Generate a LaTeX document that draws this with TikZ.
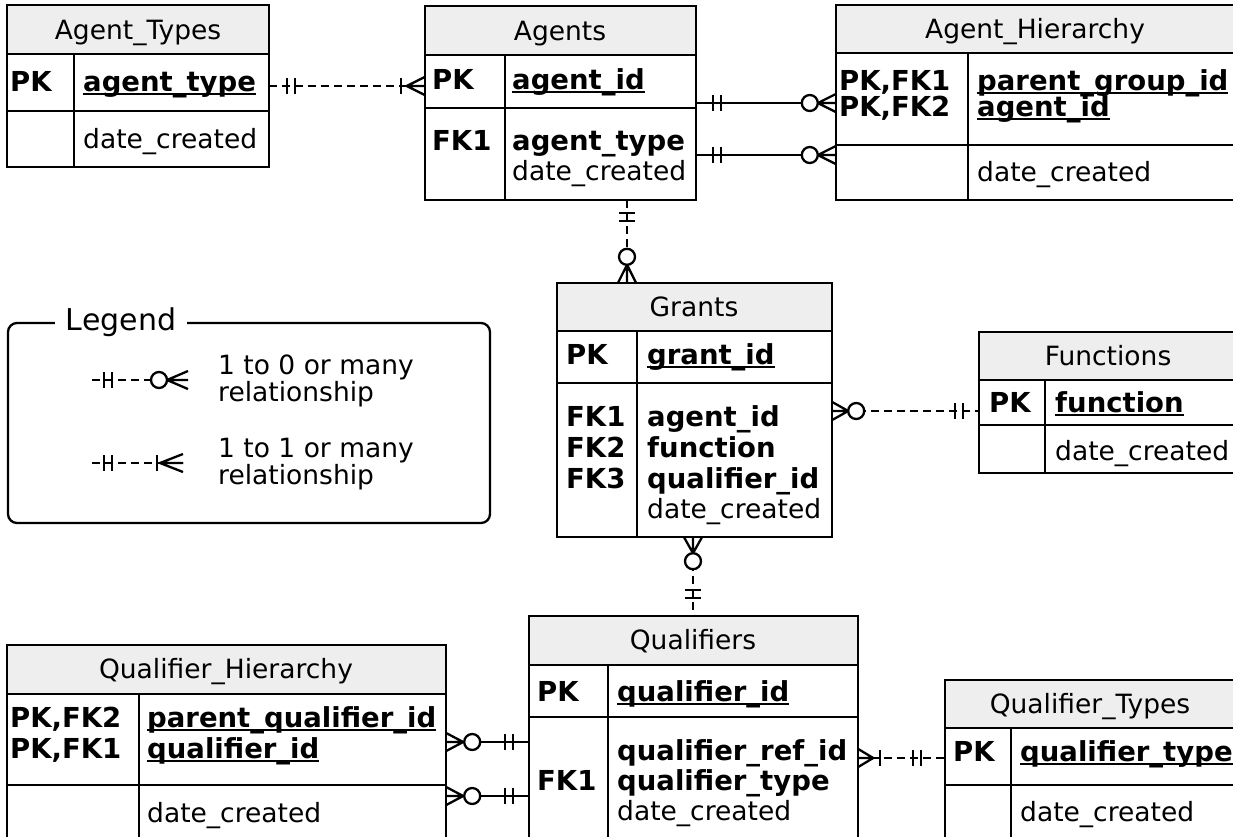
\documentclass[tikz,border=0pt]{standalone}
\usepackage{fontspec}
\setmainfont{DejaVu Sans}
\usetikzlibrary{fit,calc}

% underlined primary-key column name
\newcommand\pkey[1]{\setbox0\hbox{#1}\rlap{\rule[-3.5pt]{\wd0}{2.2pt}}\box0}

% entity table: name, x1, y1, x2, y2, header bottom, key row bottom, key column x
\newcommand\ertable[8]{%
  \node[fit={(#2,#3)(#4,#5)}, inner sep=0pt] (#1) {};
  \fill[headfill] (#2,#3) rectangle (#4,#6);
  \draw[tabline] (#2,#6) -- (#4,#6) (#2,#7) -- (#4,#7) (#8,#6) -- (#8,#5);
  \draw[tabline] (#2,#3) rectangle (#4,#5);
}

\tikzset{
  tabline/.style={line width=2.3pt},
  headfill/.style={fill=gray!13},
  txt/.style={inner sep=0pt, anchor=west, text height=19.5pt, text depth=0pt,
    font=\fontsize{26.5}{31}\selectfont},
  key/.style={txt, font=\fontsize{27.5}{31}\selectfont\bfseries},
  head/.style={inner sep=0pt, text height=19.5pt, text depth=0pt,
    font=\fontsize{26.5}{31}\selectfont},
  rel/.style={line width=2.3pt},
  reldash/.style={line width=2.3pt, dash pattern=on 8pt off 5pt},
  sym/.style={line width=2.3pt},
  pics/twobar/.style={code={\draw[sym] (#1,-8) -- (#1,8) ({#1+8},-8) -- ({#1+8},8);}},
  pics/onebar/.style={code={\draw[sym] (#1,-8) -- (#1,8);}},
  pics/fork/.style={code={\draw[sym] (0,-9) -- (#1,0) -- (0,9) (0,0) -- (#1,0);}},
  pics/ring/.style={code={\draw[sym,fill=white] (#1,0) circle[radius=8pt];}},
}

\begin{document}
\begin{tikzpicture}[x=1pt, y=-1pt]
\useasboundingbox (0,0) rectangle (1233,836);
\clip (0,0) rectangle (1233,836);
\fill[white] (0,0) rectangle (1233,836);

% ---------- tables ----------
\ertable{at}{7}{5}{269}{167}{54}{111}{74}
\node[head] (at-title) at (138,30) {Agent\_Types};
\node[key] (at-pk) at (10,82) {PK};
\node[key] (at-f1) at (83,82) {\pkey{agent\_type}};
\node[txt] (at-f2) at (83,139) {date\_created};

\ertable{ag}{425}{6}{696}{200}{55}{108}{505}
\node[head] (ag-title) at (560,31) {Agents};
\node[key] (ag-pk) at (432,80) {PK};
\node[key] (ag-f1) at (512,80) {\pkey{agent\_id}};
\node[key] (ag-fk1) at (432,141) {FK1};
\node[key] (ag-f2) at (512,141) {agent\_type};
\node[txt] (ag-f3) at (512,171) {date\_created};

\ertable{ah}{836}{5}{1250}{200}{53}{145}{968}
\node[head] (ah-title) at (1035,29) {Agent\_Hierarchy};
\node[key] (ah-pk1) at (839,81) {PK,FK1};
\node[key] (ah-pk2) at (839,107) {PK,FK2};
\node[key] (ah-f1) at (977,81) {\pkey{parent\_group\_id}};
\node[key] (ah-f2) at (977,107) {\pkey{agent\_id}};
\node[txt] (ah-f3) at (977,172) {date\_created};

\ertable{gr}{557}{283}{832}{537}{331}{383}{637}
\node[head] (gr-title) at (694,307) {Grants};
\node[key] (gr-pk) at (566,355) {PK};
\node[key] (gr-f1) at (647,355) {\pkey{grant\_id}};
\node[key] (gr-fk1) at (566,417) {FK1};
\node[key] (gr-fk2) at (566,448) {FK2};
\node[key] (gr-fk3) at (566,479) {FK3};
\node[key] (gr-f2) at (647,417) {agent\_id};
\node[key] (gr-f3) at (647,448) {function};
\node[key] (gr-f4) at (647,479) {qualifier\_id};
\node[txt] (gr-f5) at (647,509) {date\_created};

\ertable{fn}{979}{332}{1250}{473}{380}{425}{1045}
\node[head] (fn-title) at (1108,356) {Functions};
\node[key] (fn-pk) at (989,403) {PK};
\node[key] (fn-f1) at (1055,403) {\pkey{function}};
\node[txt] (fn-f2) at (1055,451) {date\_created};

\ertable{qu}{529}{616}{858}{850}{665}{717}{608}
\node[head] (qu-title) at (693,640) {Qualifiers};
\node[key] (qu-pk) at (537,692) {PK};
\node[key] (qu-f1) at (617,692) {\pkey{qualifier\_id}};
\node[key] (qu-fk1) at (537,781) {FK1};
\node[key] (qu-f2) at (617,751) {qualifier\_ref\_id};
\node[key] (qu-f3) at (617,781) {qualifier\_type};
\node[txt] (qu-f4) at (617,811) {date\_created};

\ertable{qh}{7}{645}{446}{850}{694}{785}{139}
\node[head] (qh-title) at (226,669) {Qualifier\_Hierarchy};
\node[key] (qh-pk1) at (10,718) {PK,FK2};
\node[key] (qh-pk2) at (10,749) {PK,FK1};
\node[key] (qh-f1) at (147,718) {\pkey{parent\_qualifier\_id}};
\node[key] (qh-f2) at (147,749) {\pkey{qualifier\_id}};
\node[txt] (qh-f3) at (147,813) {date\_created};

\ertable{qt}{945}{680}{1250}{850}{728}{785}{1011}
\node[head] (qt-title) at (1090,704) {Qualifier\_Types};
\node[key] (qt-pk) at (953,752) {PK};
\node[key] (qt-f1) at (1020,752) {\pkey{qualifier\_type}};
\node[txt] (qt-f2) at (1020,812) {date\_created};

% ---------- relationships ----------
% Agent_Types 1 -- 1..n Agents
\draw[reldash] (at.east |- 0,86) -- (ag.west |- 0,86);
\pic at (at.east |- 0,86) {twobar=18};
\pic[rotate=180] at (ag.west |- 0,86) {fork=18};
\pic[rotate=180] at (ag.west |- 0,86) {onebar=24};

% Agents 1 -- 0..n Agent_Hierarchy (two keys)
\foreach \yy in {103,155} {
  \draw[rel] (ag.east |- 0,\yy) -- (ah.west |- 0,\yy);
  \pic at (ag.east |- 0,\yy) {twobar=17};
  \pic[rotate=180] at (ah.west |- 0,\yy) {fork=18};
  \pic[rotate=180] at (ah.west |- 0,\yy) {ring=26};
}

% Agents 1 -- 0..n Grants
\draw[reldash] (ag.south -| 627,0) -- (gr.north -| 627,0);
\pic[rotate=-90] at (ag.south -| 627,0) {twobar=13};
\pic[rotate=90] at (gr.north -| 627,0) {fork=18};
\pic[rotate=90] at (gr.north -| 627,0) {ring=26};

% Functions 1 -- 0..n Grants
\draw[reldash] (gr.east |- 0,411) -- (fn.west |- 0,411);
\pic at (gr.east |- 0,411) {fork=16};
\pic at (gr.east |- 0,411) {ring=24};
\pic[rotate=180] at (fn.west |- 0,411) {twobar=16};

% Qualifiers 1 -- 0..n Grants
\draw[reldash] (gr.south -| 693,0) -- (qu.north -| 693,0);
\pic[rotate=-90] at (gr.south -| 693,0) {fork=16};
\pic[rotate=-90] at (gr.south -| 693,0) {ring=24};
\pic[rotate=90] at (qu.north -| 693,0) {twobar=18};

% Qualifiers 1 -- 0..n Qualifier_Hierarchy (two keys)
\foreach \yy in {742,796} {
  \draw[rel] (qh.east |- 0,\yy) -- (qu.west |- 0,\yy);
  \pic at (qh.east |- 0,\yy) {fork=17};
  \pic at (qh.east |- 0,\yy) {ring=26};
  \pic[rotate=180] at (qu.west |- 0,\yy) {twobar=16};
}

% Qualifier_Types 1 -- 1..n Qualifiers
\draw[reldash] (qu.east |- 0,758) -- (qt.west |- 0,758);
\pic at (qu.east |- 0,758) {fork=15};
\pic at (qu.east |- 0,758) {onebar=22};
\pic[rotate=180] at (qt.west |- 0,758) {twobar=24};

% ---------- legend ----------
\draw[line width=2.3pt, rounded corners=9pt] (8,323) rectangle (490,523);
\node[fill=white, inner xsep=11pt, inner ysep=2pt, text height=21pt, text depth=0pt,
  font=\fontsize{30}{36}\selectfont] (legend) at (121,320) {Legend};

\coordinate (lg1a) at (92,380);
\coordinate (lg1b) at (188,380);
\draw[reldash] (lg1a) -- (lg1b);
\pic at (lg1a) {twobar=12};
\pic[rotate=180] at (lg1b) {fork=21};
\pic[rotate=180] at (lg1b) {ring=29};
\node[txt] (lg1t) at (218,365) {1 to 0 or many};
\node[txt] (lg1u) at (218,392) {relationship};

\coordinate (lg2a) at (92,463);
\coordinate (lg2b) at (183,463);
\draw[reldash] (lg2a) -- (lg2b);
\pic at (lg2a) {twobar=12};
\pic[rotate=180] at (lg2b) {fork=23};
\pic[rotate=180] at (lg2b) {onebar=26};
\node[txt] (lg2t) at (218,448) {1 to 1 or many};
\node[txt] (lg2u) at (218,475) {relationship};
\end{tikzpicture}
\end{document}
